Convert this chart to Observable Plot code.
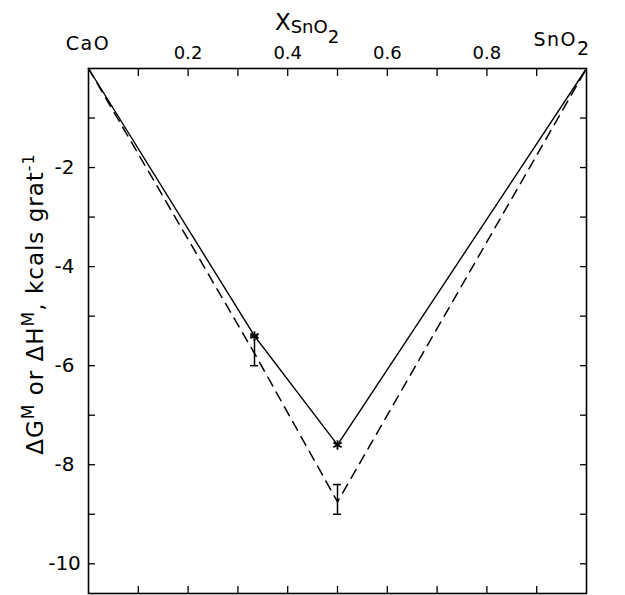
<!DOCTYPE html>
<html>
<head>
<meta charset="utf-8">
<script src="https://cdn.jsdelivr.net/npm/d3@7"></script>
<script src="https://cdn.jsdelivr.net/npm/@observablehq/plot@0.6"></script>
<style>
  body { margin: 0; background: #fff; }
  svg { display: block; }
</style>
</head>
<body>
<div id="chart"></div>
<script>
// Mole fraction of SnO2 across the CaO–SnO2 join
const composition = [0, 1 / 3, 0.5, 1];
// Enthalpy of mixing (solid line), kcal per gram-atom
const enthalpy = [0, -5.4, -7.6, 0];
// Free energy of mixing (dashed line), kcal per gram-atom
const freeEnergy = [0, -5.75, -8.75, 0];
// Measured compounds (Ca2SnO4 at 1/3, CaSnO3 at 1/2) with their uncertainty
const measuredX = [1 / 3, 0.5];
const measuredH = [-5.4, -7.6];
const errorLow = [-6.0, -9.0];
const errorHigh = [-5.4, -8.4];

// Axis ticks
const xTicks = [0.1, 0.2, 0.3, 0.4, 0.5, 0.6, 0.7, 0.8, 0.9];
const xTickLabels = [0.2, 0.4, 0.6, 0.8];
const yTicks = [-1, -2, -3, -4, -5, -6, -7, -8, -9, -10];
const yTickLabels = [-2, -4, -6, -8, -10];
const endMembers = ["CaO", "SnO"];

const solid = composition.map((c, i) => ({x: c, v: enthalpy[i]}));
const dashed = composition.map((c, i) => ({x: c, v: freeEnergy[i]}));
const points = measuredX.map((c, i) => ({x: c, v: measuredH[i]}));
const errors = measuredX.map((c, i) => ({x: c, lo: errorLow[i], hi: errorHigh[i]}));
const caps = errors.flatMap(e => [{x: e.x, v: e.lo}, {x: e.x, v: e.hi}]);

const font = "DejaVu Sans, sans-serif";
const frameTop = 68;
const frameBottom = 2;

const plot = Plot.plot({
  width: 625,
  height: 595,
  marginLeft: 88,
  marginRight: 39,
  marginTop: frameTop,
  marginBottom: frameBottom,
  style: {fontFamily: font, fontSize: "18px", color: "#000", background: "#fff"},
  x: {domain: [0, 1]},
  y: {domain: [-10.6, 0]},
  marks: [
    Plot.frame({stroke: "#000", strokeWidth: 1.6}),
    Plot.axisX(xTicks, {anchor: "top", tickSize: -7, tickFormat: () => "", label: null, strokeWidth: 1.3}),
    Plot.axisX(xTicks, {anchor: "bottom", tickSize: -7, tickFormat: () => "", label: null, strokeWidth: 1.3}),
    Plot.axisX(xTickLabels, {anchor: "top", tickSize: 0, tickPadding: 10, tickFormat: d => d.toFixed(1), label: null, fontSize: 18}),
    Plot.axisY(yTicks, {anchor: "left", tickSize: -7, tickFormat: () => "", label: null, strokeWidth: 1.3}),
    Plot.axisY(yTicks, {anchor: "right", tickSize: -7, tickFormat: () => "", label: null, strokeWidth: 1.3}),
    Plot.axisY(yTickLabels, {anchor: "left", tickSize: 0, tickPadding: 24, textAnchor: "middle", tickFormat: d => String(d), label: null, fontSize: 20}),
    Plot.line(dashed, {x: "x", y: "v", stroke: "#000", strokeWidth: 1.5, strokeDasharray: "10,7"}),
    Plot.line(solid, {x: "x", y: "v", stroke: "#000", strokeWidth: 1.4}),
    Plot.ruleX(errors, {x: "x", y1: "lo", y2: "hi", stroke: "#000", strokeWidth: 1.5}),
    Plot.ruleY(caps, {y: "v", x1: "x", x2: "x", insetLeft: -4, insetRight: -4, stroke: "#000", strokeWidth: 1.5}),
    Plot.dot(points, {x: "x", y: "v", symbol: "asterisk", r: 4.5, stroke: "#000", strokeWidth: 1.8})
  ]
});

document.getElementById("chart").append(plot);

// Composition labels, axis title and y label with sub/superscripts
const svg = d3.select(plot);
const sx = plot.scale("x");

svg.append("text")
  .attr("x", sx.apply(0)).attr("y", frameTop - 18)
  .attr("text-anchor", "middle")
  .attr("font-family", font).attr("font-size", 19).attr("letter-spacing", 1.5)
  .text(endMembers[0]);

const sn = svg.append("text")
  .attr("x", sx.apply(1) - 24).attr("y", frameTop - 22)
  .attr("font-family", font).attr("font-size", 19).attr("letter-spacing", 1.5);
sn.append("tspan").text(endMembers[1]);
sn.append("tspan").attr("dy", 9).text("2");

const title = svg.append("text")
  .attr("x", sx.apply(0.5) - 30).attr("y", frameTop - 38)
  .attr("font-family", font).attr("font-size", 23);
title.append("tspan").text("X");
title.append("tspan").attr("dy", 3).attr("font-size", 18).text("SnO");
title.append("tspan").attr("dy", 10).attr("font-size", 18).text("2");

const ylab = svg.append("text")
  .attr("transform", "translate(43,304) rotate(-90)")
  .attr("text-anchor", "middle")
  .attr("font-family", font).attr("font-size", 23).attr("letter-spacing", 1);
ylab.append("tspan").text("ΔG");
ylab.append("tspan").attr("dy", -9).attr("font-size", 17).text("M");
ylab.append("tspan").attr("dy", 9).text(" or ΔH");
ylab.append("tspan").attr("dy", -9).attr("font-size", 17).text("M");
ylab.append("tspan").attr("dy", 9).text(", kcals grat");
ylab.append("tspan").attr("dy", -9).attr("font-size", 16).text("-1");
</script>
</body>
</html>
